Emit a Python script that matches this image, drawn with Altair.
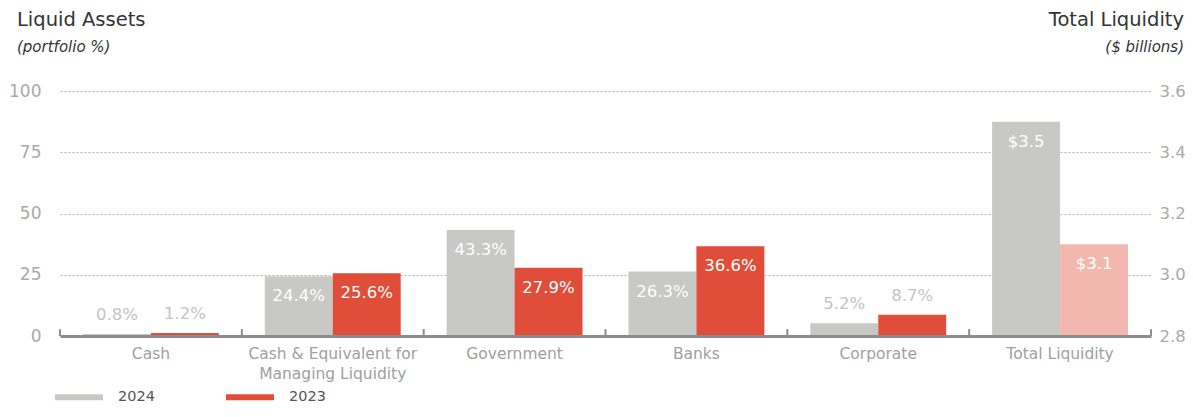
import altair as alt
import pandas as pd

FONT = "DejaVu Sans"

categories = ["Cash", "Cash & Equivalent for Managing Liquidity", "Government",
              "Banks", "Corporate", "Total Liquidity"]
label_lines = {"Cash & Equivalent for Managing Liquidity": ["Cash & Equivalent for", "Managing Liquidity"]}
years = ["2024", "2023"]
pct_2024 = [0.8, 24.4, 43.3, 26.3, 5.2]
pct_2023 = [1.2, 25.6, 27.9, 36.6, 8.7]
total_liquidity = [3.5, 3.1]  # 2024, 2023 ($ billions)

left_title = "Liquid Assets"
left_sub = "(portfolio %)"
right_title = "Total Liquidity"
right_sub = "($ billions)"

GRAY = "#c8c8c6"
RED = "#e04e3a"
PINK = "#f2b7ae"

W, H = 1091, 245

rows = []
for i, c in enumerate(categories[:5]):
    rows.append({"category": c, "year": "2024", "value": pct_2024[i]})
    rows.append({"category": c, "year": "2023", "value": pct_2023[i]})
pct_df = pd.DataFrame(rows)
tot_df = pd.DataFrame({"category": [categories[5]] * 2, "year": years, "value": total_liquidity})
tick_df = pd.DataFrame({"category": categories})

label_expr = " : ".join(
    [f"datum.value == '{k}' ? {v!r}" for k, v in label_lines.items()] + ["datum.value"]
)

x_scale = alt.Scale(domain=categories, paddingInner=0, paddingOuter=0)
x_axis = alt.Axis(title=None, labelExpr=label_expr, labelAngle=0, ticks=False, tickSize=0,
                  domain=True, domainColor="#8c8c8c", domainWidth=3, labelColor="#a0a0a0",
                  labelFontSize=15.5, labelPadding=10, labelLineHeight=20, grid=False,
                  zindex=1, labelFont=FONT)


def xenc(band=None):
    if band is None:
        return alt.X("category:N", sort=categories, scale=x_scale, axis=x_axis)
    return alt.X("category:N", sort=categories, scale=x_scale, axis=x_axis, bandPosition=band)


xoff = alt.XOffset("year:N", sort=years,
                   scale=alt.Scale(domain=years, paddingOuter=0.338, paddingInner=0))

y_left_axis = alt.Axis(title=None, values=[0, 25, 50, 75, 100], orient="left", grid=True,
                       gridDash=[2, 2], gridColor="#b5b5b5", domain=False, ticks=False,
                       labelColor="#aaaaaa", labelFontSize=17, labelPadding=19, labelFont=FONT)
y_left_scale = alt.Scale(domain=[0, 100])
y_right_axis = alt.Axis(title=None, values=[2.8, 3.0, 3.2, 3.4, 3.6], format=".1f", orient="right",
                        grid=False, domain=False, ticks=False, labelColor="#aaaaaa",
                        labelFontSize=16.5, labelPadding=8, labelFont=FONT)
y_right_scale = alt.Scale(domain=[2.8, 3.6], zero=False)

color_enc = alt.Color("year:N", sort=years,
                      scale=alt.Scale(domain=years, range=[GRAY, RED]),
                      legend=alt.Legend(title=None, orient="none", legendX=-5, legendY=282,
                                        direction="horizontal",
                                        symbolType="M-1,-0.125H1V0.125H-1Z", symbolSize=2304,
                                        symbolStrokeWidth=0, labelFontSize=14.5, labelColor="#555555",
                                        labelFont=FONT, labelOffset=15, columnPadding=71))

base_pct = alt.Chart(pct_df).transform_calculate(
    label="format(datum.value, '.1f') + '%'")

bars = base_pct.mark_bar().encode(
    x=xenc(), xOffset=xoff,
    y=alt.Y("value:Q", scale=y_left_scale, axis=y_left_axis),
    color=color_enc,
)
lab_in = base_pct.transform_filter("datum.value >= 15").mark_text(
    dy=20, fontSize=16.5, color="white", font=FONT, baseline="middle").encode(
    x=xenc(), xOffset=xoff,
    y=alt.Y("value:Q", scale=y_left_scale, axis=y_left_axis),
    text="label:N",
)
lab_out = base_pct.transform_filter("datum.value < 15").mark_text(
    dy=-19, fontSize=16.5, color="#c4c4c4", font=FONT, baseline="middle").encode(
    x=xenc(), xOffset=xoff,
    y=alt.Y("value:Q", scale=y_left_scale, axis=y_left_axis),
    text="label:N",
)
ticks = alt.Chart(tick_df).mark_rule(color="#8c8c8c", strokeWidth=2).encode(
    x=xenc(0), y=alt.datum(0, scale=y_left_scale, axis=y_left_axis), y2=alt.datum(2.8))
ticks_end = alt.Chart(tick_df).transform_filter(
    alt.datum.category == categories[-1]).mark_rule(color="#8c8c8c", strokeWidth=2).encode(
    x=xenc(1), y=alt.datum(0, scale=y_left_scale, axis=y_left_axis), y2=alt.datum(2.8))

pct_layer = alt.layer(bars, lab_in, lab_out, ticks, ticks_end)

base_tot = alt.Chart(tot_df).transform_calculate(
    label="'$' + format(datum.value, '.1f')")
tbars = base_tot.mark_bar().encode(
    x=xenc(), xOffset=xoff,
    y=alt.Y("value:Q", scale=y_right_scale, axis=y_right_axis),
    y2=alt.datum(2.8),
    color=alt.condition(alt.datum.year == "2024", alt.value(GRAY), alt.value(PINK)),
)
tlab = base_tot.mark_text(dy=20, fontSize=16.5, color="white", font=FONT, baseline="middle").encode(
    x=xenc(), xOffset=xoff,
    y=alt.Y("value:Q", scale=y_right_scale, axis=y_right_axis),
    text="label:N",
)
tot_layer = alt.layer(tbars, tlab)


def title_text(txt, x, y, align, size, style, color):
    return alt.Chart(pd.DataFrame({"t": [txt]})).mark_text(
        align=align, baseline="middle", fontSize=size, fontStyle=style, color=color, font=FONT
    ).encode(text="t:N", x=alt.value(x), y=alt.value(y))


titles = alt.layer(
    title_text(left_title, -43, -71, "left", 19.5, "normal", "#333333"),
    title_text(left_sub, -43, -44, "left", 15, "italic", "#333333"),
    title_text(right_title, W + 33, -71, "right", 19.5, "normal", "#333333"),
    title_text(right_sub, W + 33, -44, "right", 15, "italic", "#333333"),
)

chart = alt.layer(pct_layer, tot_layer, titles).resolve_scale(y="independent").properties(
    width=W, height=H,
    autosize=alt.AutoSizeParams(type="none"),
    padding={"left": 52, "top": 83, "right": 34, "bottom": 73},
).configure_view(stroke=None)

chart.save("out.html", embed_options={"renderer": "svg", "actions": False})
